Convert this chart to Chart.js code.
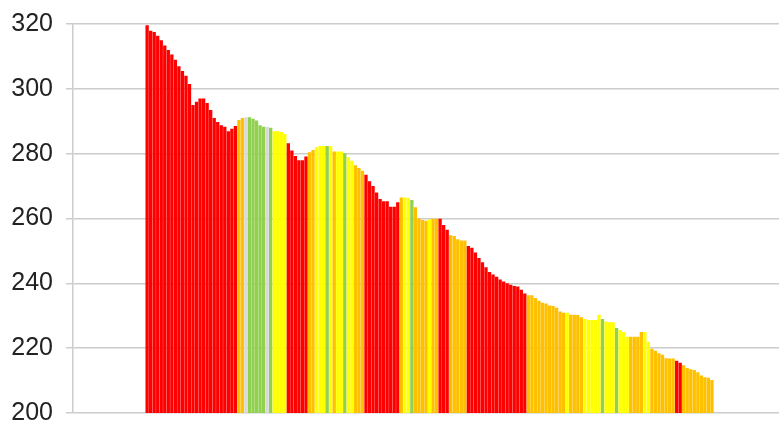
<!DOCTYPE html>
<html>
<head>
<meta charset="utf-8">
<script src="https://cdn.jsdelivr.net/npm/chart.js@4"></script>
<style>
  html, body { margin: 0; padding: 0; background: #fff; }
  #chart { display: block; }
</style>
</head>
<body>
<canvas id="chart" width="779" height="425"></canvas>
<script>
// Axis range of the category (x) positions and of the values
const X_MIN = 0;
const X_MAX = 200;
const FIRST_X = 21;
const Y_TICKS = [200, 220, 240, 260, 280, 300, 320];

// Bar heights, left to right
const values = [
  319.6, 317.9, 317.5, 316.4, 315.0, 313.4, 312.0, 310.6, 309.0, 307.0,
  305.5, 304.0, 301.5, 295.0, 296.0, 297.0, 297.0, 295.6, 293.5, 291.0,
  289.8, 288.8, 288.3, 286.9, 287.7, 288.5, 290.4, 291.0, 291.2, 291.2,
  290.8, 290.2, 288.8, 288.3, 288.3, 288.0, 286.9, 286.9, 286.7, 286.1,
  283.2, 281.0, 279.3, 278.0, 278.0, 279.1, 280.4, 281.1, 282.0, 282.4,
  282.4, 282.4, 282.4, 280.7, 280.7, 280.7, 280.1, 279.0, 277.8, 276.4,
  275.6, 274.7, 273.5, 271.5, 270.0, 268.0, 266.0, 265.3, 265.3, 263.6,
  263.6, 265.0, 266.5, 266.5, 266.3, 265.7, 263.5, 260.0, 259.5, 259.3,
  259.7, 259.9, 259.9, 259.9, 258.0, 256.5, 254.8, 254.6, 253.6, 253.2,
  253.2, 251.5, 251.0, 249.5, 247.8, 246.5, 245.0, 243.5, 242.7, 242.0,
  241.2, 240.6, 240.0, 239.6, 239.2, 239.0, 238.0, 236.9, 236.3, 236.3,
  235.5, 234.6, 234.0, 233.8, 233.2, 233.0, 232.5, 231.3, 230.9, 230.9,
  230.3, 230.3, 230.2, 229.5, 229.0, 228.7, 228.7, 228.7, 230.3, 229.0,
  228.2, 228.0, 228.0, 226.2, 225.6, 225.0, 223.5, 223.5, 223.5, 223.5,
  225.0, 225.0, 222.0, 219.8, 219.2, 218.4, 218.0, 216.9, 216.8, 216.8,
  216.1, 215.5, 214.7, 213.9, 213.5, 213.3, 212.6, 211.6, 211.0, 210.9,
  210.2
];

// Colour class of each bar: R red, O orange, Y yellow, G green, P pale
const colorKeys = (
  'RRRRRRRRRRRRRRRRRRRRRRRRRR' +
  'OOPGGGGGPGYYYY' +
  'RRRRRROOYYYGYOYYGYYOOO' +
  'RRRRRRRRRROYYGOOOOYOORRR' +
  'OOOOORRRRRRRRRRRRRRRRR' +
  'OOOOOOOOOOOYOOOOYYYYYGYYYGYYYOOOOYY' +
  'OOOOOOORROOOOOOOOOO'
).split('');

const palette = { R: '#ff0000', O: '#ffc000', Y: '#ffff00', G: '#92d050', P: '#d9d9d9' };

const points = values.map((v, i) => ({ x: FIRST_X + i, y: v }));

new Chart(document.getElementById('chart').getContext('2d'), {
  type: 'bar',
  data: {
    datasets: [{
      data: points,
      backgroundColor: colorKeys.map(k => palette[k]),
      borderWidth: 0,
      barPercentage: 1.0,
      categoryPercentage: 0.94
    }]
  },
  options: {
    responsive: false,
    animation: false,
    layout: { padding: { top: 24, bottom: 12, left: 0, right: 0 } },
    plugins: { legend: { display: false }, tooltip: { enabled: false } },
    scales: {
      x: {
        type: 'linear',
        min: X_MIN,
        max: X_MAX,
        offset: false,
        display: false
      },
      y: {
        min: 200,
        max: 320,
        afterFit: s => {
          s.width = 73;
          s.paddingTop = 0;
          s.paddingBottom = 0;
        },
        afterBuildTicks: s => { s.ticks = Y_TICKS.map(v => ({ value: v })); },
        grid: { color: '#cccccc', lineWidth: 1.5, tickLength: 7 },
        border: { color: '#cccccc', width: 1.5 },
        ticks: {
          padding: 13,
          color: '#222222',
          font: { family: 'Liberation Sans, Arial, sans-serif', size: 25 }
        }
      }
    }
  }
});
</script>
</body>
</html>
